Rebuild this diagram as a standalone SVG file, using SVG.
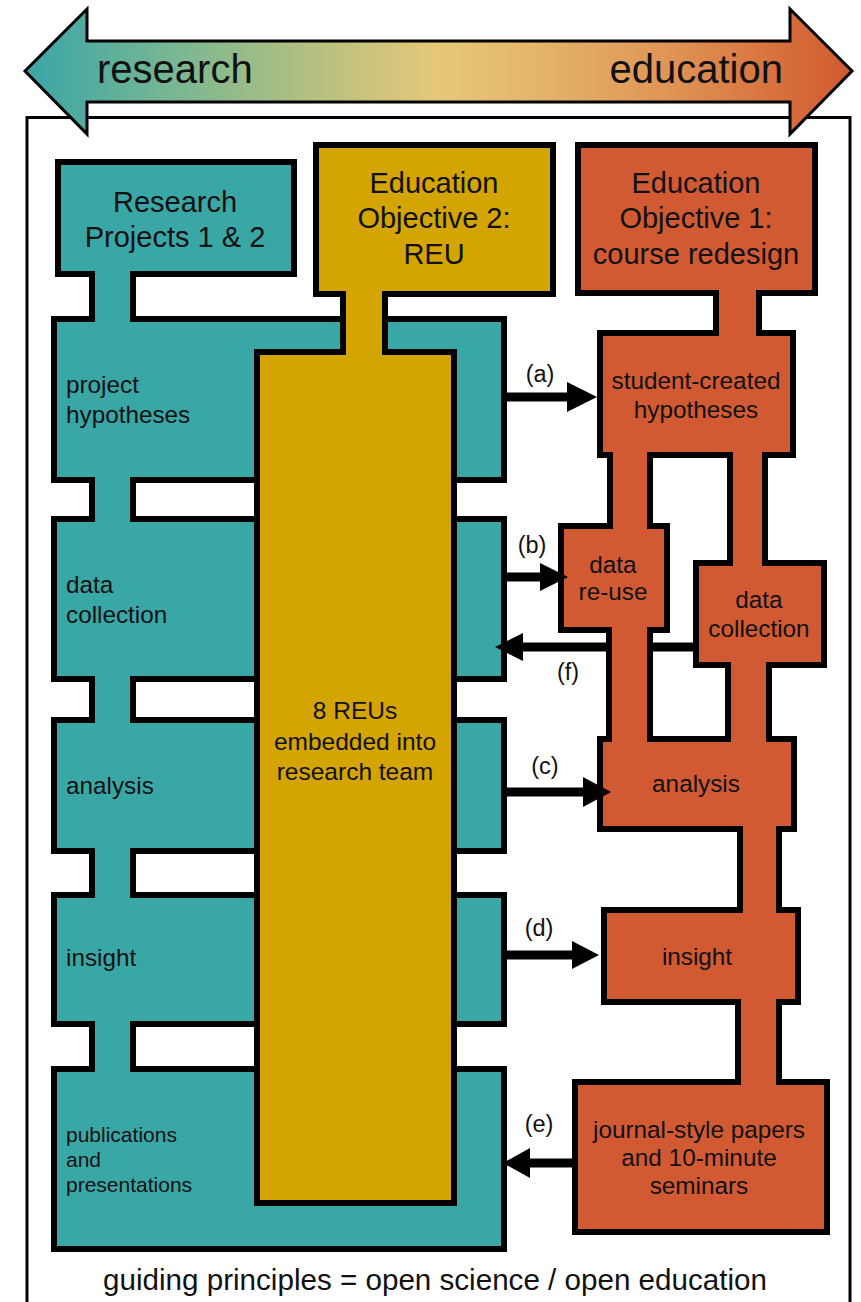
<svg xmlns="http://www.w3.org/2000/svg" width="861" height="1302" viewBox="0 0 861 1302">
<defs>
<linearGradient id="spectrum" gradientUnits="userSpaceOnUse" x1="26" y1="0" x2="852" y2="0">
<stop offset="0" stop-color="#39a5a6"/>
<stop offset="0.18" stop-color="#79b792"/>
<stop offset="0.35" stop-color="#b6c07f"/>
<stop offset="0.5" stop-color="#e6c878"/>
<stop offset="0.62" stop-color="#e4b46a"/>
<stop offset="0.78" stop-color="#df9456"/>
<stop offset="0.9" stop-color="#d8733f"/>
<stop offset="1" stop-color="#d05a30"/>
</linearGradient>
<style>
text{font-family:"Liberation Sans",Arial,Helvetica,sans-serif;fill:#111;}
.teal{fill:#3aa7a7;stroke:#000;stroke-width:6;}
.gold{fill:#d4a400;stroke:#000;stroke-width:6;}
.orng{fill:#d25a32;stroke:#000;stroke-width:6;}
.tealf{fill:#3aa7a7;}
.goldf{fill:#d4a400;}
.orngf{fill:#d25a32;}
.side{stroke:#000;stroke-width:6;}
.title{font-size:29px;text-anchor:middle;}
.lbl{font-size:24.3px;}
.lblc{font-size:24.3px;text-anchor:middle;}
.small{font-size:21px;}
.tag{font-size:23.5px;text-anchor:middle;}
.conn{stroke:#000;stroke-width:9;fill:none;}
.head{fill:#000;}
</style>
</defs>
<rect x="0" y="0" width="861" height="1302" fill="#fff"/>
<!-- frame -->
<rect id="frame" x="27" y="117.5" width="823" height="1210" fill="none" stroke="#000" stroke-width="3"/>
<!-- spectrum arrow -->
<g id="spectrum-arrow">
<polygon points="25,71 87,9 87,41 790,41 790,9 852,71 790,134 790,102 87,102 87,134" fill="url(#spectrum)" stroke="#000" stroke-width="3" stroke-linejoin="miter"/>
<text x="97" y="83" style="font-size:40px">research</text>
<text x="783" y="83" style="font-size:40px" text-anchor="end">education</text>
</g>
<!-- teal research column -->
<g id="research-projects"><rect class="teal" x="58" y="162" width="236" height="112"/><text class="title" x="175" y="212">Research</text><text class="title" x="175" y="247">Projects 1 &amp; 2</text></g>
<g id="r-hypotheses"><rect class="teal" x="54" y="319" width="450" height="161"/><text class="lbl" x="66" y="393">project</text><text class="lbl" x="66" y="423">hypotheses</text></g>
<g id="r-data-collection"><rect class="teal" x="54" y="519" width="450" height="160"/><text class="lbl" x="66" y="593">data</text><text class="lbl" x="66" y="623">collection</text></g>
<g id="r-analysis"><rect class="teal" x="54" y="720" width="450" height="131"/><text class="lbl" x="66" y="794">analysis</text></g>
<g id="r-insight"><rect class="teal" x="54" y="895" width="450" height="129"/><text class="lbl" x="66" y="966">insight</text></g>
<g id="r-publications"><rect class="teal" x="54" y="1069" width="450" height="180"/><text class="small" x="66" y="1142">publications</text><text class="small" x="66" y="1167">and</text><text class="small" x="66" y="1192">presentations</text></g>
<g id="teal-stems">
<rect class="tealf" x="95" y="271" width="35" height="51"/>
<rect class="tealf" x="95" y="477" width="35" height="45"/>
<rect class="tealf" x="95" y="676" width="35" height="47"/>
<rect class="tealf" x="95" y="848" width="35" height="50"/>
<rect class="tealf" x="95" y="1021" width="35" height="51"/>
<path class="side" d="M92,271V322M133,271V322M92,477V522M133,477V522M92,676V723M133,676V723M92,848V898M133,848V898M92,1021V1072M133,1021V1072"/>
</g>
<!-- gold REU column -->
<g id="reu-objective"><rect class="gold" x="316" y="145" width="237" height="149"/><text class="title" x="434" y="193">Education</text><text class="title" x="434" y="228">Objective 2:</text><text class="title" x="434" y="264">REU</text></g>
<g id="reu-team"><rect class="gold" x="257" y="352" width="197" height="851"/><text class="lblc" x="355" y="719" style="font-size:24.5px">8 REUs</text><text class="lblc" x="355" y="750" style="font-size:24.5px">embedded into</text><text class="lblc" x="355" y="780" style="font-size:24.5px">research team</text></g>
<g id="gold-stem">
<rect class="goldf" x="346" y="291" width="36" height="64"/>
<path class="side" d="M343,291V355M385,291V355"/>
</g>
<!-- orange course redesign column -->
<g id="course-objective"><rect class="orng" x="578" y="145" width="237" height="148"/><text class="title" x="696" y="193">Education</text><text class="title" x="696" y="228">Objective 1:</text><text class="title" x="696" y="264">course redesign</text></g>
<g id="c-hypotheses"><rect class="orng" x="600" y="333" width="193" height="122"/><text class="lblc" x="696" y="389">student-created</text><text class="lblc" x="696" y="418">hypotheses</text></g>
<g id="c-data-reuse"><rect class="orng" x="561" y="526" width="106" height="104"/><text class="lblc" x="613" y="573">data</text><text class="lblc" x="613" y="600">re-use</text></g>
<g id="c-data-collection"><rect class="orng" x="696" y="563" width="128" height="102"/><text class="lblc" x="759" y="608">data</text><text class="lblc" x="759" y="637">collection</text></g>
<g id="c-analysis"><rect class="orng" x="600" y="739" width="194" height="90"/><text class="lblc" x="696" y="792">analysis</text></g>
<g id="c-insight"><rect class="orng" x="604" y="910" width="194" height="92"/><text class="lblc" x="697" y="965">insight</text></g>
<g id="c-papers"><rect class="orng" x="575" y="1082" width="252" height="150"/><text class="lblc" x="699" y="1138">journal-style papers</text><text class="lblc" x="699" y="1166">and 10-minute</text><text class="lblc" x="699" y="1194">seminars</text></g>
<g id="orange-stems">
<rect class="orngf" x="719" y="290" width="37" height="46"/>
<rect class="orngf" x="613" y="452" width="34" height="77"/>
<rect class="orngf" x="733" y="452" width="29" height="114"/>
<rect class="orngf" x="612" y="627" width="35" height="115"/>
<rect class="orngf" x="731" y="662" width="35" height="80"/>
<rect class="orngf" x="743" y="826" width="33" height="87"/>
<rect class="orngf" x="741" y="999" width="35" height="86"/>
<path class="side" d="M716,290V336M759,290V336M610,452V529M650,452V529M730,452V566M765,452V566M609,627V742M650,627V742M728,662V742M769,662V742M740,826V913M779,826V913M738,999V1085M779,999V1085"/>
</g>
<!-- connectors -->
<g id="connectors">
<path class="conn" d="M507,397H570"/><polygon class="head" points="567,382 597,397 567,412"/>
<path class="conn" d="M507,577H543"/><polygon class="head" points="540,563 568,577 540,591"/>
<path class="conn" d="M693,647H653M606,647H520"/><polygon class="head" points="523,633 495,647 523,661"/>
<path class="conn" d="M507,792H586"/><polygon class="head" points="583,777 611,792 583,807"/>
<path class="conn" d="M507,955H575"/><polygon class="head" points="572,941 599,955 572,969"/>
<path class="conn" d="M572,1163H527"/><polygon class="head" points="530,1148 503,1163 530,1178"/>
<text class="tag" x="540" y="382">(a)</text>
<text class="tag" x="532" y="553">(b)</text>
<text class="tag" x="568" y="680">(f)</text>
<text class="tag" x="545" y="774">(c)</text>
<text class="tag" x="539" y="936">(d)</text>
<text class="tag" x="539" y="1132">(e)</text>
</g>
<text x="435" y="1290" style="font-size:29.6px" text-anchor="middle">guiding principles = open science / open education</text>
</svg>
